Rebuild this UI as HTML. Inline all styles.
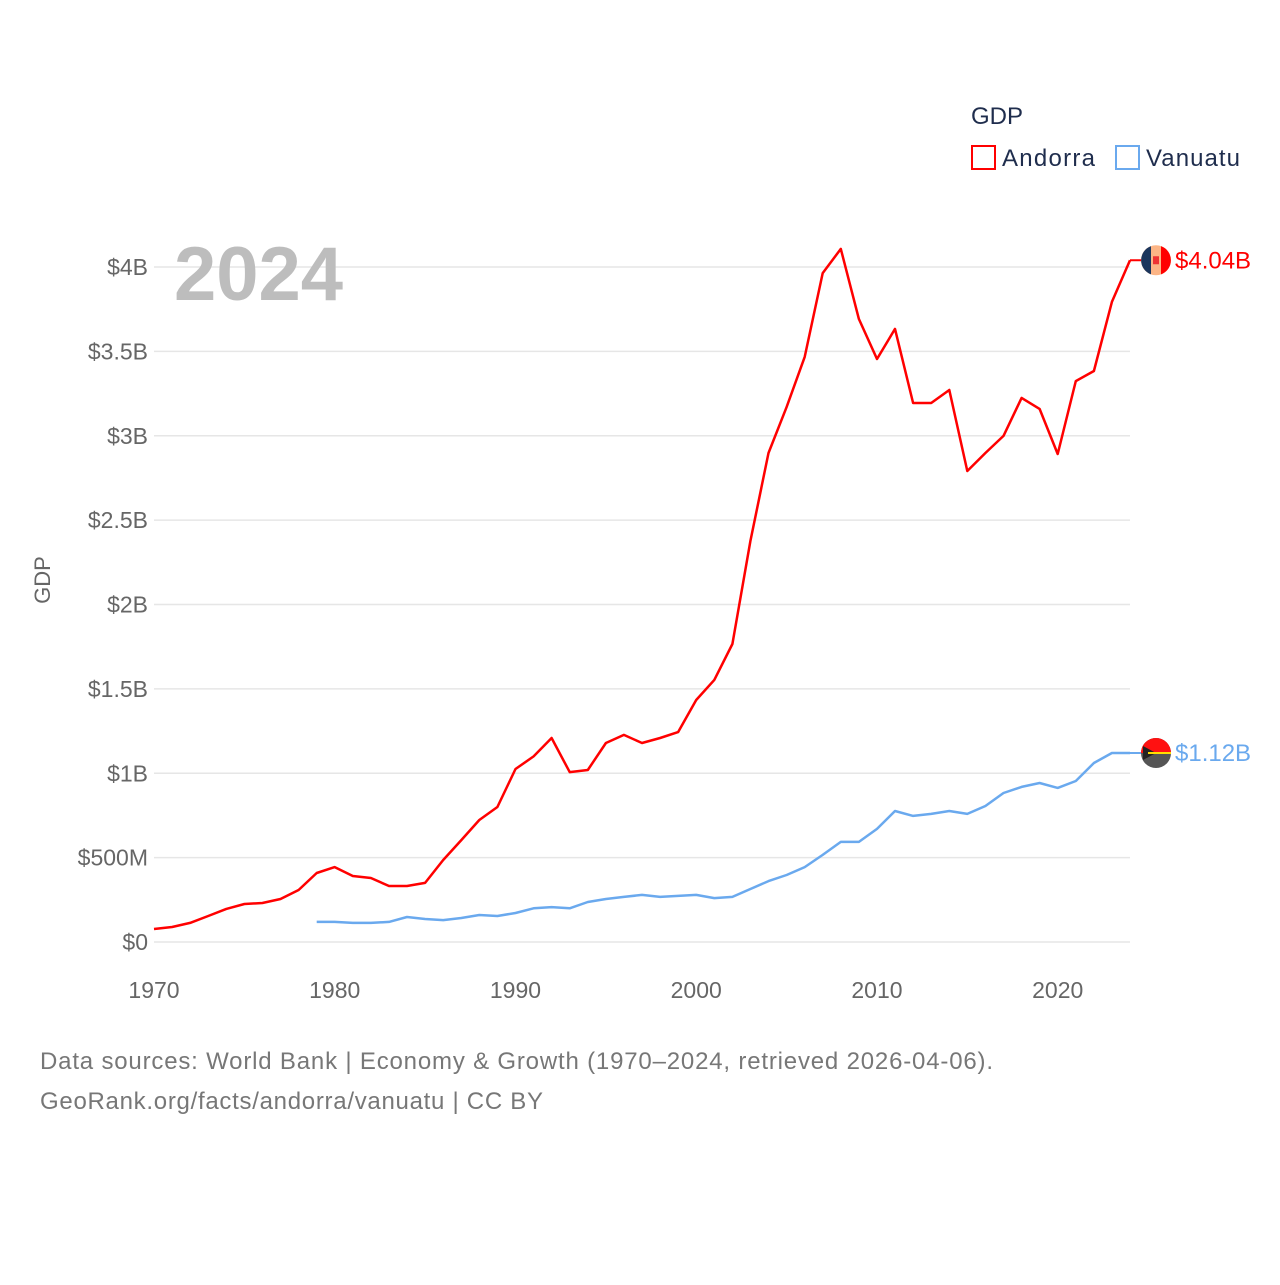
<!DOCTYPE html>
<html><head><meta charset="utf-8"><style>
body{margin:0;background:#fff;font-family:"Liberation Sans",sans-serif}
svg text{font-family:"Liberation Sans",sans-serif}
</style></head><body>
<svg id="chart" width="1280" height="1280" viewBox="0 0 1280 1280" xmlns="http://www.w3.org/2000/svg">
<rect width="1280" height="1280" fill="#fff"/>
<g id="grid"></g>
<g id="yticks"></g>
<g id="xticks"></g>
<text x="174" y="300" font-size="76" font-weight="bold" fill="#bdbdbd">2024</text>
<text transform="translate(50,580) rotate(-90)" text-anchor="middle" font-size="22" fill="#666">GDP</text>
<g id="series"></g>
<g>
<text x="971" y="124" font-size="24" fill="#1f2d4d">GDP</text>
<g><rect x="972" y="146" width="23" height="23" fill="none" stroke="#f00" stroke-width="2"/><text x="1002" y="166" font-size="24" fill="#1f2d4d" textLength="93">Andorra</text></g>
<g><rect x="1116" y="146" width="23" height="23" fill="none" stroke="#6aa9ee" stroke-width="2"/><text x="1146" y="166" font-size="24" fill="#1f2d4d" textLength="94">Vanuatu</text></g>
</g>
<text x="40" y="1069" font-size="24" fill="#777" textLength="953">Data sources: World Bank | Economy &amp; Growth (1970–2024, retrieved 2026-04-06).</text>
<text x="40" y="1109" font-size="24" fill="#777" textLength="503">GeoRank.org/facts/andorra/vanuatu | CC BY</text>
</svg>
<script>
const yearsAndorra=[1970,1971,1972,1973,1974,1975,1976,1977,1978,1979,1980,1981,1982,1983,1984,1985,1986,1987,1988,1989,1990,1991,1992,1993,1994,1995,1996,1997,1998,1999,2000,2001,2002,2003,2004,2005,2006,2007,2008,2009,2010,2011,2012,2013,2014,2015,2016,2017,2018,2019,2020,2021,2022,2023,2024];
const andorraGDP=[0.077,0.089,0.113,0.154,0.196,0.225,0.231,0.255,0.308,0.409,0.444,0.391,0.379,0.332,0.332,0.35,0.486,0.604,0.723,0.80,1.025,1.10,1.209,1.007,1.019,1.179,1.227,1.179,1.209,1.244,1.434,1.553,1.766,2.376,2.898,3.17,3.467,3.964,4.107,3.692,3.455,3.633,3.194,3.194,3.271,2.791,2.898,2.999,3.224,3.159,2.892,3.324,3.384,3.793,4.04];
const yearsVanuatu=[1979,1980,1981,1982,1983,1984,1985,1986,1987,1988,1989,1990,1991,1992,1993,1994,1995,1996,1997,1998,1999,2000,2001,2002,2003,2004,2005,2006,2007,2008,2009,2010,2011,2012,2013,2014,2015,2016,2017,2018,2019,2020,2021,2022,2023,2024];
const vanuatuGDP=[0.119,0.119,0.113,0.113,0.119,0.148,0.136,0.13,0.142,0.16,0.154,0.172,0.2,0.207,0.2,0.237,0.255,0.267,0.279,0.267,0.273,0.279,0.26,0.267,0.314,0.361,0.397,0.444,0.516,0.593,0.593,0.67,0.776,0.747,0.759,0.776,0.759,0.806,0.883,0.919,0.942,0.913,0.954,1.061,1.12,1.12];
const yTickValues=[0,0.5,1,1.5,2,2.5,3,3.5,4];
const yTickLabels=["$0","$500M","$1B","$1.5B","$2B","$2.5B","$3B","$3.5B","$4B"];
const xTickValues=[1970,1980,1990,2000,2010,2020];
const endLabels=["$4.04B","$1.12B"];

const NS="http://www.w3.org/2000/svg";
const X=y=>154+(y-1970)*(1130-154)/54;
const Y=v=>942-v*168.75;
function mk(t,a,p){const e=document.createElementNS(NS,t);for(const k in a)e.setAttribute(k,a[k]);p.appendChild(e);return e;}
const grid=document.getElementById('grid'),yt=document.getElementById('yticks'),xt=document.getElementById('xticks'),ser=document.getElementById('series');
yTickValues.forEach((v,i)=>{
 const l=mk('line',{x1:154,x2:1130,y1:Y(v),y2:Y(v),stroke:'#e6e6e6','stroke-width':1.5},grid);
 
 
 const t=mk('text',{x:148,y:Y(v)+8,'text-anchor':'end','font-size':23,fill:'#666'},yt);
 t.textContent=yTickLabels[i];
 
 
});
xTickValues.forEach(v=>{
 const t=mk('text',{x:X(v),y:998,'text-anchor':'middle','font-size':23,fill:'#666'},xt);
 t.textContent=v;
 
 
});
function line(years,vals,color,name,label,flag){
 const d=years.map((y,i)=>(i?'L':'M')+X(y).toFixed(1)+','+Y(vals[i]).toFixed(1)).join('');
 const p=mk('path',{d:d,fill:'none',stroke:color,'stroke-width':2.5,'stroke-linejoin':'round'},ser);
 
 
 const ly=Y(vals[vals.length-1]);
 mk('line',{x1:1130,x2:1142,y1:ly,y2:ly,stroke:color,'stroke-width':2},ser);
 const g=mk('g',{},ser);
 
 
 flag(g,1156,ly);
 const t=mk('text',{x:1175,y:ly+8,'font-size':24,fill:color},ser);
 t.textContent=label;
 
 
}
line(yearsAndorra,andorraGDP,'#ff0000','andorra',endLabels[0],(g,cx,cy)=>{
 mk('circle',{cx:cx,cy:cy,r:15,fill:'#fcb586'},g);
 mk('path',{d:`M${cx-5},${cy-14.1}A15,15 0 0 0 ${cx-5},${cy+14.1}Z`,fill:'#1b365d'},g);
 mk('path',{d:`M${cx+5},${cy-14.1}A15,15 0 0 1 ${cx+5},${cy+14.1}Z`,fill:'#f00'},g);
 mk('rect',{x:cx-3,y:cy-4,width:6,height:8,fill:'#e33'},g);
});
line(yearsVanuatu,vanuatuGDP,'#6aa9ee','vanuatu',endLabels[1],(g,cx,cy)=>{
 mk('circle',{cx:cx,cy:cy,r:15,fill:'#555'},g);
 mk('path',{d:`M${cx-15},${cy}A15,15 0 0 1 ${cx+15},${cy}Z`,fill:'#f11'},g);
 mk('path',{d:`M${cx-13},${cy-7}L${cx},${cy}L${cx-13},${cy+7}Z`,fill:'#222'},g);
 mk('line',{x1:cx-8,x2:cx+15,y1:cy,y2:cy,stroke:'#fd0','stroke-width':2},g);
});
</script>
</body></html>
